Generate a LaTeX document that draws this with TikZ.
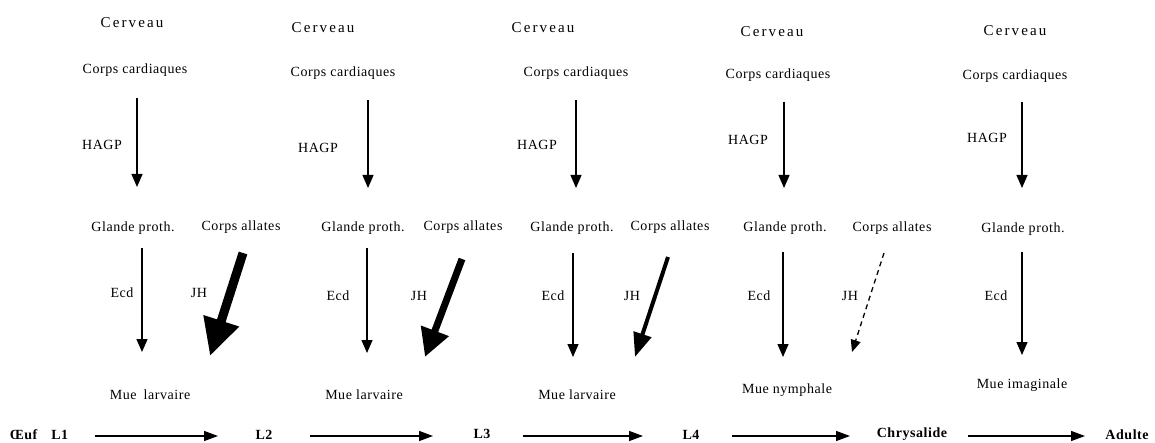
\documentclass[tikz,border=0pt]{standalone}
\usepackage{fontspec}
\setmainfont{Liberation Serif}
\usetikzlibrary{arrows.meta}
\begin{document}
\begin{tikzpicture}[x=1pt,y=-1pt,
  lbl/.style={inner sep=0pt, font=\fontsize{14}{16}\selectfont\addfontfeature{LetterSpace=4}},
  brain/.style={inner sep=0pt, font=\fontsize{15}{17}\selectfont\addfontfeature{LetterSpace=14}},
  stage/.style={inner sep=0pt, font=\fontsize{14}{16}\selectfont\bfseries\addfontfeature{LetterSpace=4}},
  thin/.style={line width=1.3pt, -{Triangle[length=13pt,width=11pt]}},
  jhdash/.style={line width=1.3pt, dash pattern=on 5pt off 4pt, -{Triangle[length=12pt,width=10pt]}},
  stagearrow/.style={line width=1.3pt, -{Triangle[length=14pt,width=10pt]}},
  jhbig/.style={line width=9pt, -{Triangle[length=37pt,width=35pt]}},
  jhmid/.style={line width=7pt, -{Triangle[length=28pt,width=28pt]}},
  jhsmall/.style={line width=4pt, -{Triangle[length=24pt,width=18pt]}}
]
\useasboundingbox[fill=white] (0,0) rectangle (1155,443);

% ---- top row ----
\node[brain] (ce1) at (132,23) {Cerveau};
\node[brain] (ce2) at (323,28) {Cerveau};
\node[brain] (ce3) at (543,28) {Cerveau};
\node[brain] (ce4) at (772,32) {Cerveau};
\node[brain] (ce5) at (1015,31) {Cerveau};

\node[lbl] (cc1) at (135,70) {Corps cardiaques};
\node[lbl] (cc2) at (343,73) {Corps cardiaques};
\node[lbl] (cc3) at (576,73) {Corps cardiaques};
\node[lbl] (cc4) at (778,75) {Corps cardiaques};
\node[lbl] (cc5) at (1015,76) {Corps cardiaques};

\node[lbl] (hg1) at (102,145) {HAGP};
\node[lbl] (hg2) at (318,148) {HAGP};
\node[lbl] (hg3) at (537,145) {HAGP};
\node[lbl] (hg4) at (748,140) {HAGP};
\node[lbl] (hg5) at (987,138) {HAGP};

% ---- glands ----
\node[lbl] (gp1) at (133,228) {Glande proth.};
\node[lbl] (gp2) at (363,228) {Glande proth.};
\node[lbl] (gp3) at (572,228) {Glande proth.};
\node[lbl] (gp4) at (785,228) {Glande proth.};
\node[lbl] (gp5) at (1023,229) {Glande proth.};

\node[lbl] (ca1) at (241,227) {Corps allates};
\node[lbl] (ca2) at (463,227) {Corps allates};
\node[lbl] (ca3) at (670,227) {Corps allates};
\node[lbl] (ca4) at (892,228) {Corps allates};

\node[lbl] (ec1) at (122,293) {Ecd};
\node[lbl] (ec2) at (338,296) {Ecd};
\node[lbl] (ec3) at (553,296) {Ecd};
\node[lbl] (ec4) at (759,296) {Ecd};
\node[lbl] (ec5) at (996,296) {Ecd};

\node[lbl] (jh1) at (199,293) {JH};
\node[lbl] (jh2) at (419,296) {JH};
\node[lbl] (jh3) at (632,296) {JH};
\node[lbl] (jh4) at (850,296) {JH};

% ---- moults ----
\node[lbl] (mu1) at (150,395) {Mue\enspace larvaire};
\node[lbl] (mu2) at (364,395) {Mue larvaire};
\node[lbl] (mu3) at (577,395) {Mue larvaire};
\node[lbl] (mu4) at (787,390) {Mue nymphale};
\node[lbl] (mu5) at (1022,385) {Mue imaginale};

% ---- stages ----
\node[stage] (s1) at (39,435) {Œuf\quad L1};
\node[stage] (s2) at (264,435) {L2};
\node[stage] (s3) at (482,434) {L3};
\node[stage] (s4) at (691,435) {L4};
\node[stage] (s5) at (912,434) {Chrysalide};
\node[stage] (s6) at (1127,435) {Adulte};

% ---- arrow end points ----
\coordinate (h1a) at (137,98);  \coordinate (h1b) at (137,187);
\coordinate (h2a) at (368,100); \coordinate (h2b) at (368,188);
\coordinate (h3a) at (576,100); \coordinate (h3b) at (576,188);
\coordinate (h4a) at (784,102); \coordinate (h4b) at (784,188);
\coordinate (h5a) at (1022,102);\coordinate (h5b) at (1022,188);

\coordinate (e1a) at (142,248); \coordinate (e1b) at (142,352);
\coordinate (e2a) at (367,248); \coordinate (e2b) at (367,353);
\coordinate (e3a) at (573,253); \coordinate (e3b) at (573,357);
\coordinate (e4a) at (783,252); \coordinate (e4b) at (783,357);
\coordinate (e5a) at (1022,252);\coordinate (e5b) at (1022,355);

\coordinate (j1a) at (243,253); \coordinate (j1b) at (210,356);
\coordinate (j2a) at (462,259); \coordinate (j2b) at (425,357);
\coordinate (j3a) at (668,257); \coordinate (j3b) at (635,357);
\coordinate (j4a) at (884,253); \coordinate (j4b) at (852,352);

\coordinate (b1a) at (95,436);  \coordinate (b1b) at (218,436);
\coordinate (b2a) at (310,436); \coordinate (b2b) at (433,436);
\coordinate (b3a) at (523,436); \coordinate (b3b) at (643,436);
\coordinate (b4a) at (732,436); \coordinate (b4b) at (850,436);
\coordinate (b5a) at (968,436); \coordinate (b5b) at (1085,436);

% ---- arrows ----
\foreach \i in {1,...,5} {
  \draw[thin] (h\i a) -- (h\i b);
  \draw[thin] (e\i a) -- (e\i b);
  \draw[stagearrow] (b\i a) -- (b\i b);
}
\draw[jhbig] (j1a) -- (j1b);
\draw[jhmid] (j2a) -- (j2b);
\draw[jhsmall] (j3a) -- (j3b);
\draw[jhdash] (j4a) -- (j4b);
\end{tikzpicture}
\end{document}
